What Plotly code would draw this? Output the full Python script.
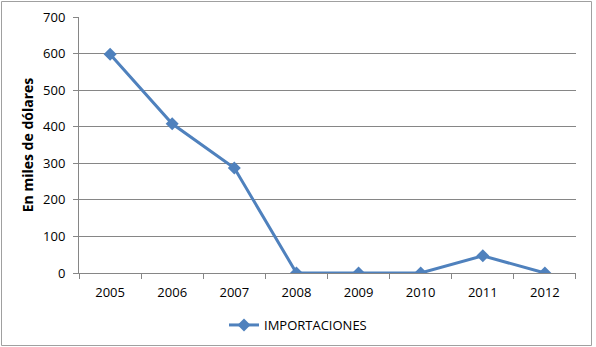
import plotly.graph_objects as go

years = ["2005", "2006", "2007", "2008", "2009", "2010", "2011", "2012"]
importaciones = [598, 408, 287, 0, 0, 0, 47, 0]
y_ticks = [0, 100, 200, 300, 400, 500, 600, 700]

W, H = 596, 347
L, R, T, B = 79, 20, 17, 74
pw, ph = W - L - R, H - T - B

def px_y(py):
    return (T + ph - py) / ph

def px_x(px):
    return (px - L) / pw

FONT = "Open Sans, Liberation Sans, sans-serif"

fig = go.Figure()
fig.add_trace(go.Scatter(
    x=years, y=importaciones, name="IMPORTACIONES", mode="lines+markers",
    line=dict(color="#4F81BD", width=3),
    marker=dict(symbol="diamond", size=10, color="#4F81BD"),
))

fig.update_layout(
    width=W, height=H,
    margin=dict(l=L, r=R, t=T, b=B, autoexpand=False),
    paper_bgcolor="white", plot_bgcolor="white",
    font=dict(family=FONT, size=13, color="#000000"),
    showlegend=True,
    legend=dict(orientation="h", x=px_x(298), xanchor="center", y=px_y(325),
                yanchor="middle", font=dict(size=13), bgcolor="rgba(0,0,0,0)"),
    xaxis=dict(type="category", tickson="boundaries", ticks="outside", ticklen=5,
               tickcolor="#868686", showline=True, linecolor="#868686", linewidth=1,
               showgrid=False, zeroline=False, tickfont=dict(size=13),
               ticklabelstandoff=7),
    yaxis=dict(range=[0, 700], tickvals=y_ticks, ticks="outside", ticklen=5,
               tickcolor="#868686", showline=True, linecolor="#868686", linewidth=1,
               showgrid=True, gridcolor="#868686", gridwidth=1, zeroline=False,
               tickfont=dict(size=13), ticklabelstandoff=5,
               title=dict(text="<b>En miles de dólares</b>", font=dict(size=14), standoff=6)),
    shapes=[dict(type="rect", xref="paper", yref="paper",
                 x0=px_x(1.5), x1=px_x(W - 4.5),
                 y0=px_y(H - 1.5), y1=px_y(1.5),
                 line=dict(color="#A0A0A0", width=1))],
)

fig.write_html("out.html")
